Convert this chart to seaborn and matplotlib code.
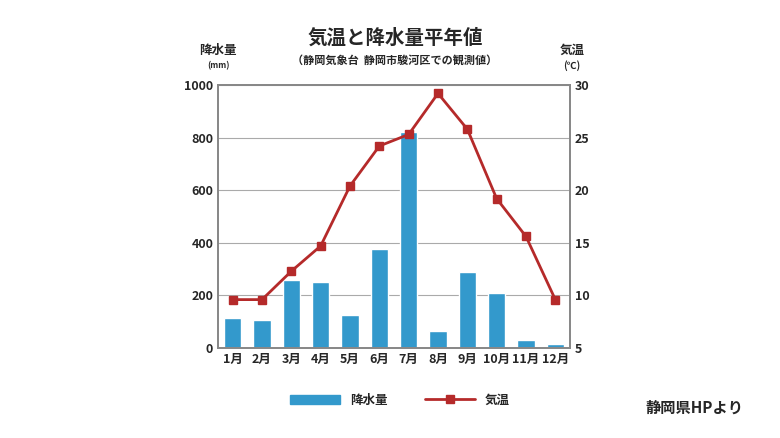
import matplotlib
matplotlib.use("Agg")
import matplotlib.pyplot as plt
import seaborn as sns
import pandas as pd

months = ["1月","2月","3月","4月","5月","6月","7月","8月","9月","10月","11月","12月"]
precip = [114, 106, 259, 251, 125, 376, 821, 65, 289, 209, 30, 15]
temp = [9.6, 9.6, 12.3, 14.7, 20.4, 24.2, 25.3, 29.2, 25.8, 19.2, 15.6, 9.6]

sns.set_theme(style="white")
plt.rcParams['font.family'] = ['Noto Sans CJK JP', 'DejaVu Sans']
plt.rcParams['font.weight'] = 'bold'

df = pd.DataFrame({"month": months, "precip": precip, "temp": temp})
fig = plt.figure(figsize=(7.8, 4.38), dpi=100)
ax = fig.add_axes([218/780, 1-348/438, 352/780, 263/438])
sns.barplot(data=df, x="month", y="precip", color="#3399cc", saturation=1, width=0.6, ax=ax)
ax.set_ylim(0, 1000)
ax.set_yticks(range(0, 1001, 200))
ax.set_xlabel(""); ax.set_ylabel("")
ax.yaxis.grid(True, color="#aaaaaa", lw=0.8)
ax.set_axisbelow(True)
for s in ax.spines.values():
    s.set_color("#888888")
ax.tick_params(axis='both', labelsize=9, length=0)

ax2 = ax.twinx()
ax2.plot(range(12), temp, color="#b52a2a", lw=2, marker="s", markersize=6)
ax2.set_ylim(5, 30)
ax2.set_yticks(range(5, 31, 5))
ax2.tick_params(labelsize=9, length=0)
for s in ax2.spines.values():
    s.set_color("#888888")
ax.set_xlim(-0.5, 11.5)

fig.text(395/780, 1-38/438, "気温と降水量平年値", ha="center", va="center", fontsize=14, fontweight="bold")
fig.text(395/780, 1-60/438, "（静岡気象台  静岡市駿河区での観測値）", ha="center", va="center", fontsize=8, fontweight="bold")
fig.text(218/780, 1-50/438, "降水量", ha="center", va="center", fontsize=9, fontweight="bold")
fig.text(218/780, 1-66/438, "(mm)", ha="center", va="center", fontsize=6, fontweight="bold")
fig.text(572/780, 1-50/438, "気温", ha="center", va="center", fontsize=9, fontweight="bold")
fig.text(572/780, 1-66/438, "(℃)", ha="center", va="center", fontsize=7, fontweight="bold")

from matplotlib.patches import Patch
from matplotlib.lines import Line2D
handles = [Patch(color="#3399cc"), Line2D([], [], color="#b52a2a", lw=2, marker="s")]
fig.legend(handles, ["降水量", "気温"], loc="center", bbox_to_anchor=(400/780, 1-400/438),
           ncol=2, frameon=False, fontsize=9, handlelength=4, columnspacing=3)
fig.text(695/780, 1-408/438, "静岡県HPより", ha="center", va="center", fontsize=11, fontweight="bold")
fig.savefig("out.png", dpi=100)
